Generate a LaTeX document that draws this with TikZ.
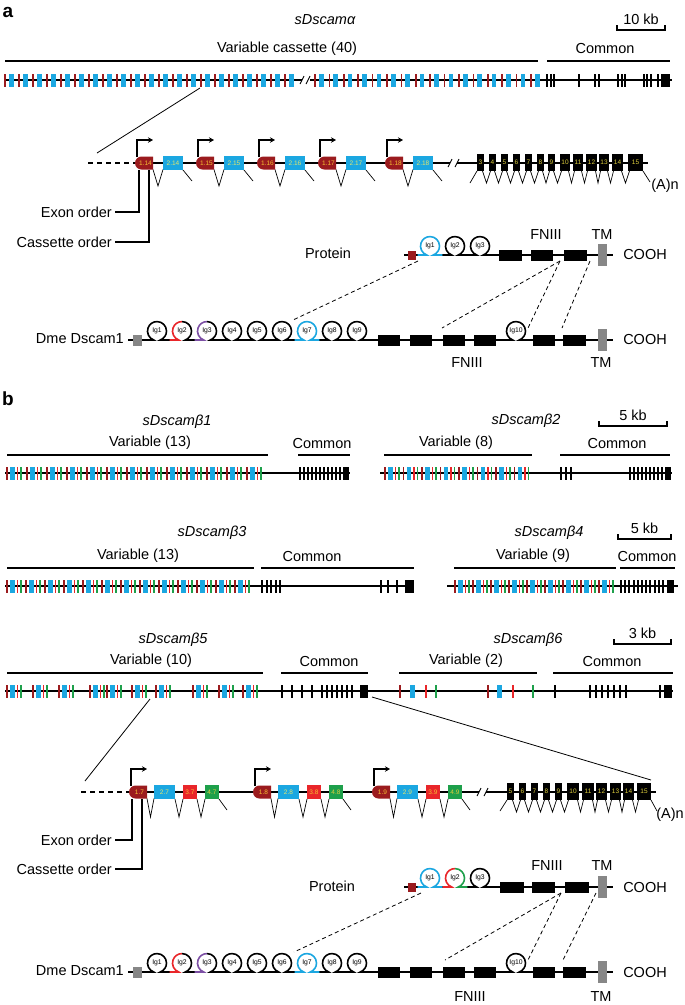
\documentclass[tikz,border=0pt]{standalone}
\usepackage{fontspec}
\setmainfont{Liberation Sans}
\usetikzlibrary{arrows.meta}
\definecolor{dred}{RGB}{155,27,30}
\definecolor{ablue}{RGB}{27,167,225}
\definecolor{bred}{RGB}{233,38,42}
\definecolor{agreen}{RGB}{30,160,75}
\definecolor{apurple}{RGB}{125,80,165}
\definecolor{agray}{RGB}{135,135,135}
\definecolor{exyel}{RGB}{245,190,50}
\definecolor{bxyel}{RGB}{225,230,110}
\definecolor{kyel}{RGB}{220,205,60}
\newcount\lblc
\newcommand\nn{\global\advance\lblc by 1\relax}
\tikzset{
 lab/.style={font=\fontsize{14.5}{16}\selectfont,inner sep=0pt},
 ttl/.style={font=\fontsize{14.5}{16}\selectfont\itshape,inner sep=0pt},
 exl/.style={font=\fontsize{6.5}{7}\selectfont,inner sep=0pt},
 igl/.style={font=\fontsize{6.8}{7}\selectfont,inner sep=0pt},
 gline/.style={line width=1.1pt},
 pline/.style={line width=1.3pt},
 hbar/.style={line width=1.4pt},
 igs/.style={line width=1.6pt},
 spl/.style={line width=0.7pt},
 dsh/.style={line width=0.8pt,dash pattern=on 4pt off 3pt},
 prom/.style={line width=1.3pt,-{Stealth[length=5pt,width=5.5pt]}},
}
% thin coloured exon in a gene row
\newcommand\tx[3]{\fill[#3] ({#1-0.8},{#2-6.5}) rectangle ({#1+0.8},{#2+6.5});}
% thick exon (left x)
\newcommand\tb[3]{\fill[#3] (#1,{#2-6.5}) rectangle ({#1+4.5},{#2+6.5});}
% thin black exon
\newcommand\kx[2]{\fill[black] ({#1-1},{#2-6.5}) rectangle ({#1+1},{#2+6.5});}
% beta cassette
\newcommand\cas[2]{\tx{#1}{#2}{dred}\tb{#1+3}{#2}{ablue}\tx{#1+10.5}{#2}{bred}\tx{#1+14}{#2}{agreen}}
% scale bar
\newcommand\sbar[4]{\draw[line width=1.3pt] (#1,{#3-5}) -- (#1,#3) -- (#2,#3) -- (#2,{#3-5});
 \nn\node[lab] (q\the\lblc) at ({(#1+#2)/2},{#3-11}) {#4};}
% D-shaped first exon with promoter arrow
\newcommand\dex[3]{\fill[dred] ({#1+18},{#2-6.5}) -- ({#1+6.5},{#2-6.5}) arc[start angle=270,end angle=90,radius=6.5] -- ({#1+18},{#2+6.5}) -- cycle;
 \nn\node[exl,text=exyel] (q\the\lblc) at ({#1+10.5},#2) {#3};
 \draw[prom] ({#1+2},{#2-6}) -- ({#1+2},{#2-23}) -- ({#1+18},{#2-23});}
% box exon: x1,x2,y,fill,text colour,label
\newcommand\bex[6]{\fill[#4] (#1,{#3-7}) rectangle (#2,{#3+7});
 \nn\node[exl,text=#5] (q\the\lblc) at ({(#1+#2)/2},#3) {#6};}
% black common exon box
\newcommand\kex[4]{\fill[black] (#1,{#3-9}) rectangle (#2,{#3+8});
 \nn\node[exl,text=kyel] (q\the\lblc) at ({(#1+#2)/2},{#3-0.5}) {#4};}
% splice V
\newcommand\vv[4]{\draw[spl] (#1,#3) -- ({(#1+#2)/2},#4) -- (#2,#3);}
% Ig loop: cx, y0, left colour, right colour, label
\newcommand\ig[5]{\draw[white,line width=3pt] ({#1-3.1},#2) -- ({#1+3.1},#2);
 \draw[igs,#3] ({#1-12.5},#2) -- ({#1-3.25},#2) arc[start angle=110,end angle=270,radius=9.5];
 \draw[igs,#4] (#1,{#2-18.43}) arc[start angle=270,end angle=430,radius=9.5] -- ({#1+12.5},#2);
 \nn\node[igl] (q\the\lblc) at (#1,{#2-9}) {#5};}
% FNIII box
\newcommand\fn[3]{\fill[black] (#1,{#3-5.5}) rectangle (#2,{#3+5.5});}
% Dme Dscam1 row
\newcommand\dme[1]{%
 \draw[pline] (128,#1) -- (613,#1);
 \fill[agray] (133,{#1-5.5}) rectangle (142,{#1+5.5});
 \ig{157}{#1}{black}{black}{Ig1}
 \ig{182}{#1}{bred}{black}{Ig2}
 \ig{207}{#1}{apurple}{black}{Ig3}
 \ig{232}{#1}{black}{black}{Ig4}
 \ig{257}{#1}{black}{black}{Ig5}
 \ig{282}{#1}{black}{black}{Ig6}
 \ig{307}{#1}{ablue}{ablue}{Ig7}
 \ig{332}{#1}{black}{black}{Ig8}
 \ig{357}{#1}{black}{black}{Ig9}
 \fn{378}{400}{#1}\fn{410}{432}{#1}\fn{443}{465}{#1}\fn{474}{496}{#1}
 \ig{516}{#1}{black}{black}{Ig10}
 \fn{533}{555}{#1}\fn{563}{586}{#1}
 \fill[agray] (598,{#1-11}) rectangle (607,{#1+11});
 \nn\node[lab,anchor=east] (q\the\lblc) at (124,{#1-1}) {Dme Dscam1};
 \nn\node[lab] (q\the\lblc) at (645,#1) {COOH};}
\begin{document}
\begin{tikzpicture}[x=1pt,y=-1pt]
\fill[white] (0,0) rectangle (685,1005);
\useasboundingbox (0,0) rectangle (685,1005);
%%%%%%%%%%%%%%%% PANEL A
\node[font=\fontsize{19}{20}\selectfont\bfseries,inner sep=0] (pa) at (8,12) {a};
\node[ttl] (ta) at (325,20) {sDscamα};
\sbar{617}{665}{30}{10 kb}
\node[lab] (va) at (287,49) {Variable cassette (40)};
\draw[hbar] (5,61) -- (538,61);
\node[lab] (ca) at (605,49) {Common};
\draw[hbar] (547,61) -- (670,61);
\draw[gline] (5,80) -- (672,80);
\foreach \i in {0,...,20}{\tx{5+14*\i}{80}{dred}\tb{9+14*\i}{80}{ablue}}
\fill[white] (302,75) rectangle (310,85);
\draw[line width=0.9pt] (300,84) -- (304,76) (306,84) -- (310,76);
\foreach \i in {0,...,15}{\tx{315+14.4*\i}{80}{dred}\tb{319+14.4*\i}{80}{ablue}}
\foreach \x in {547,550.5,554,579,595,598.5,618,621.5,625,643.5,647,650.5,658}{\kx{\x}{80}}
\fill (661,73.5) rectangle (670,86.5);
\coordinate (za1) at (200,88); \coordinate (za2) at (97,153);
\draw[line width=0.8pt] (za1) -- (za2);
% cassette detail a
\draw[gline,dash pattern=on 5pt off 4pt] (88,163) -- (135,163);
\draw[gline] (135,163) -- (648,163);
\fill[white] (450,158) rectangle (457,168);
\draw[line width=0.9pt] (448,167) -- (452,159) (455,167) -- (459,159);
\foreach \r/\n in {135/14,196/15,257/16,318/17,385/18}{
 \dex{\r}{163}{1.\n}
 \bex{\r+28}{\r+48}{163}{ablue}{bxyel}{2.\n}
 \vv{\r+18}{\r+28}{169.5}{186}
 \draw[spl] (\r+48,170) -- (\r+57,181);
}
\foreach \a/\b/\n in {477/484/3,489/496/4,501/508/5,513/520/6,525/532/7,537/544/8,548/555/9,560/570/10,573/583/11,586/597/12,599/609/13,612/623/14,628/643/15}{\kex{\a}{\b}{163}{\n}}
\foreach \a/\b in {484/489,496/501,508/513,520/525,532/537,544/548,555/560,570/573,583/586,597/599,609/612,623/628}{\vv{\a-1.5}{\b+1.5}{171}{183}}
\draw[spl] (470,183) -- (477,171);
\draw[spl] (643,171) -- (650,182);
\node[lab] (an) at (665,186) {(A)n};
\node[lab,anchor=east] (eo) at (112,212) {Exon order};
\node[lab,anchor=east] (co) at (112,242) {Cassette order};
\coordinate (eo1) at (139,169.5); \coordinate (co1) at (149,169.5);
\draw[line width=1.2pt] (eo.east) ++(3,0) -| (eo1);
\draw[line width=1.2pt] (co.east) ++(3,0) -| (co1);
% protein a
\node[lab] (pr) at (328,253) {Protein};
\draw[pline] (404,255) -- (613,255);
\fill[dred] (408,250.5) rectangle (416,259.5);
\ig{430}{255}{ablue}{ablue}{Ig1}
\ig{455}{255}{black}{black}{Ig2}
\ig{480}{255}{black}{black}{Ig3}
\fn{499}{522}{255}\fn{531}{553}{255}\fn{564}{587}{255}
\fill[agray] (598,244) rectangle (607,266);
\node[lab] (fa) at (546,235) {FNIII};
\node[lab] (tma) at (602,235) {TM};
\node[lab] (cpa) at (645,255) {COOH};
% Dme a
\dme{340}
\node[lab] (fb) at (467,363) {FNIII};
\node[lab] (tmb) at (601,363) {TM};
\coordinate (d1) at (418,261); \coordinate (d2) at (293,320);
\coordinate (d3) at (560,261); \coordinate (d4) at (442,328); \coordinate (d5) at (528,328);
\coordinate (d6) at (590,261); \coordinate (d7) at (562,328);
\draw[dsh] (d1) -- (d2); \draw[dsh] (d3) -- (d4); \draw[dsh] (d3) -- (d5); \draw[dsh] (d6) -- (d7);
%%%%%%%%%%%%%%%% PANEL B
\node[font=\fontsize{19}{20}\selectfont\bfseries,inner sep=0] (pb) at (8,399) {b};
% beta1
\node[ttl] (t1) at (177,422) {sDscamβ1};
\node[lab] (v1) at (150,443) {Variable (13)}; \draw[hbar] (7,455) -- (268,455);
\node[lab] (c1) at (322,443) {Common}; \draw[hbar] (298,455) -- (350,455);
\draw[gline] (5,473) -- (350,473);
\foreach \i in {0,...,12}{\cas{7+20*\i}{473}}
\foreach \x in {300,304,...,340}{\kx{\x}{473}}
\fill (343,466.5) rectangle (349,479.5);
% beta2
\node[ttl] (t2) at (526,421) {sDscamβ2};
\sbar{599}{667}{426}{5 kb}
\node[lab] (v2) at (456,443) {Variable (8)}; \draw[hbar] (384,455) -- (532,455);
\node[lab] (c2) at (617,443) {Common}; \draw[hbar] (560,455) -- (670,455);
\draw[gline] (380,473) -- (672,473);
\foreach \i in {0,...,7}{\cas{385+18.5*\i}{473}}
\foreach \x in {561,566,571}{\kx{\x}{473}}
\foreach \x in {630,634,...,662}{\kx{\x}{473}}
\fill (665,466.5) rectangle (671,479.5);
% beta3
\node[ttl] (t3) at (212,533) {sDscamβ3};
\node[lab] (v3) at (138,556) {Variable (13)}; \draw[hbar] (7,568) -- (254,568);
\node[lab] (c3) at (312,556) {Common}; \draw[hbar] (261,568) -- (414,568);
\draw[gline] (5,586) -- (414,586);
\foreach \i in {0,...,12}{\cas{7+19*\i}{586}}
\foreach \x in {262,266.5,271,275.5,280,381,388,397}{\kx{\x}{586}}
\fill (405,579.5) rectangle (414,592.5);
% beta4
\node[ttl] (t4) at (549,533) {sDscamβ4};
\sbar{618}{671}{539}{5 kb}
\node[lab] (v4) at (533,556) {Variable (9)}; \draw[hbar] (454,568) -- (616,568);
\node[lab] (c4) at (647,556) {Common}; \draw[hbar] (620,568) -- (675,568);
\draw[gline] (447,586) -- (678,586);
\foreach \i in {0,...,8}{\cas{455+18*\i}{586}}
\foreach \x in {621,625.2,...,663}{\kx{\x}{586}}
\fill (667,579.5) rectangle (674,592.5);
% beta5 / beta6
\node[ttl] (t5) at (173,640) {sDscamβ5};
\node[lab] (v5) at (151,661) {Variable (10)}; \draw[hbar] (7,673) -- (263,673);
\node[lab] (c5) at (329,661) {Common}; \draw[hbar] (281,673) -- (368,673);
\node[ttl] (t6) at (528,640) {sDscamβ6};
\sbar{614}{671}{644}{3 kb}
\node[lab] (v6) at (466,661) {Variable (2)}; \draw[hbar] (399,673) -- (537,673);
\node[lab] (c6) at (612,661) {Common}; \draw[hbar] (553,673) -- (673,673);
\draw[gline] (5,691) -- (673,691);
\foreach \x in {7,33,59,90,107,132,156,193,219,243}{\cas{\x}{691}}
\foreach \x in {282,292,302,312,322,327,332,337,342,347,352}{\kx{\x}{691}}
\fill (360,684.5) rectangle (368,697.5);
\tx{400}{691}{dred}\tb{410}{691}{ablue}\tx{426}{691}{bred}\tx{436}{691}{agreen}
\tx{488}{691}{dred}\tb{497}{691}{ablue}\tx{513}{691}{bred}\tx{533}{691}{agreen}
\foreach \x in {555,590,596,602,608,614,620,626,660}{\kx{\x}{691}}
\fill (664,684.5) rectangle (672,697.5);
\coordinate (zb1) at (150,699); \coordinate (zb2) at (85,781);
\coordinate (zb3) at (372,697); \coordinate (zb4) at (651,780);
\draw[line width=0.8pt] (zb1) -- (zb2);
\draw[line width=0.8pt] (zb3) -- (zb4);
% cassette detail b
\draw[gline,dash pattern=on 5pt off 4pt] (81,792) -- (129,792);
\draw[gline] (129,792) -- (656,792);
\fill[white] (479,787) rectangle (486,797);
\draw[line width=0.9pt] (477,796) -- (481,788) (484,796) -- (488,788);
\foreach \r/\n in {129/7,253/8,372/9}{
 \dex{\r}{792}{1.\n}
 \bex{\r+25}{\r+46}{792}{ablue}{bxyel}{2.\n}
 \bex{\r+54}{\r+68}{792}{bred}{exyel}{3.\n}
 \bex{\r+76}{\r+90}{792}{agreen}{kyel}{4.\n}
 \vv{\r+18}{\r+25}{798.5}{817}
 \vv{\r+46}{\r+54}{799}{817}
 \vv{\r+68}{\r+76}{799}{817}
 \draw[spl] (\r+90,799) -- (\r+98,810);
}
\foreach \a/\b/\n in {507/514/5,519/526/6,531/538/7,543/550/8,555/562/9,567/579/10,582/594/11,596/607/12,610/621/13,623/634/14,637/651/15}{\kex{\a}{\b}{792}{\n}}
\foreach \a/\b in {514/519,526/531,538/543,550/555,562/567,579/582,594/596,607/610,621/623,634/637}{\vv{\a-1.5}{\b+1.5}{800}{812}}
\draw[spl] (500,811) -- (507,800);
\draw[spl] (651,800) -- (657,811);
\node[lab] (bn) at (670,815) {(A)n};
\node[lab,anchor=east] (eob) at (112,840) {Exon order};
\node[lab,anchor=east] (cob) at (112,869) {Cassette order};
\coordinate (eob1) at (132,798.5); \coordinate (cob1) at (142,798.5);
\draw[line width=1.2pt] (eob.east) ++(3,0) -| (eob1);
\draw[line width=1.2pt] (cob.east) ++(3,0) -| (cob1);
% protein b
\node[lab] (prb) at (332,886) {Protein};
\draw[pline] (404,887) -- (613,887);
\fill[dred] (408,882.5) rectangle (416,891.5);
\ig{430}{887}{ablue}{ablue}{Ig1}
\ig{455}{887}{bred}{agreen}{Ig2}
\ig{480}{887}{black}{black}{Ig3}
\fn{500}{524}{887}\fn{532}{555}{887}\fn{565}{589}{887}
\fill[agray] (598,876) rectangle (607,898);
\node[lab] (fc) at (547,865) {FNIII};
\node[lab] (tmc) at (602,865) {TM};
\node[lab] (cpb) at (645,887) {COOH};
% Dme b
\dme{972}
\node[lab] (fd) at (470,996) {FNIII};
\node[lab] (tmd) at (601,996) {TM};
\coordinate (e1) at (421,893); \coordinate (e2) at (294,952);
\coordinate (e3) at (561,893); \coordinate (e4) at (445,960); \coordinate (e5) at (528,960);
\coordinate (e6) at (596,893); \coordinate (e7) at (563,960);
\draw[dsh] (e1) -- (e2); \draw[dsh] (e3) -- (e4); \draw[dsh] (e3) -- (e5); \draw[dsh] (e6) -- (e7);
\end{tikzpicture}
\end{document}
